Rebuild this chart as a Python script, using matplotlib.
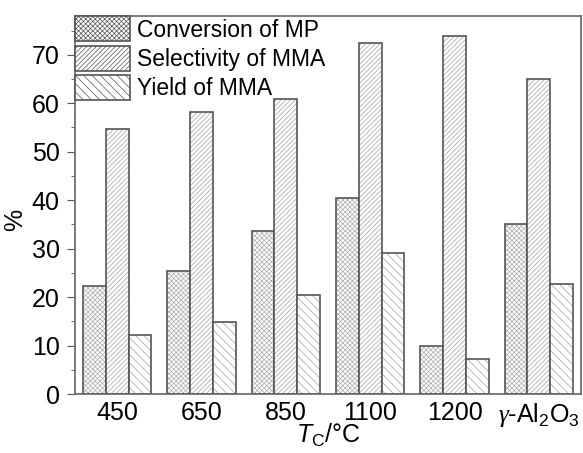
import matplotlib.pyplot as plt
import numpy as np
from matplotlib.ticker import MultipleLocator

plt.rcParams['font.family'] = ['Liberation Sans', 'DejaVu Sans']
plt.rcParams['mathtext.fontset'] = 'custom'
plt.rcParams['mathtext.rm'] = 'Liberation Sans'
plt.rcParams['mathtext.it'] = 'Liberation Sans:italic'
plt.rcParams['mathtext.sf'] = 'Liberation Serif:italic'
plt.rcParams['hatch.linewidth'] = 0.5

categories = ['450', '650', '850', '1100', '1200', r'$\mathsf{\gamma}$-Al$_2$O$_3$']
conversion = [22.3, 25.4, 33.7, 40.4, 9.9, 35.1]
selectivity = [54.7, 58.2, 60.8, 72.5, 73.8, 65.0]
yield_mma = [12.2, 14.8, 20.5, 29.2, 7.3, 22.8]

fig = plt.figure(figsize=(5.83, 4.53), dpi=100)
ax = fig.add_axes([0.1286, 0.1302, 0.868, 0.8345])

x = np.arange(len(categories))
w = 0.27
edge = '#555555'

series = [
    (conversion, 'xxxxxxx', '#ababab', 'Conversion of MP'),
    (selectivity, '///////', '#a0a0a0', 'Selectivity of MMA'),
    (yield_mma, '\\\\\\\\', '#a0a0a0', 'Yield of MMA'),
]
for i, (vals, h, hc, lab) in enumerate(series):
    ax.bar(x + (i - 1) * w, vals, w, facecolor='white', edgecolor=hc,
           hatch=h, linewidth=0, label=lab)
    # outline drawn separately so the hatch stays lighter than the edge
    ax.bar(x + (i - 1) * w, vals, w, facecolor='none', edgecolor=edge, linewidth=1.2)

ax.set_xlim(-0.5, len(categories) - 0.5)
ax.set_ylim(0, 78)
ax.set_xticks(x)
ax.set_xticklabels(categories, fontsize=18)
ax.yaxis.set_major_locator(MultipleLocator(10))
ax.yaxis.set_minor_locator(MultipleLocator(5))
ax.tick_params(axis='y', which='major', direction='out', length=6, labelsize=18,
               color='#555555', pad=5)
ax.tick_params(axis='y', which='minor', direction='out', length=3, color='#555555')
ax.tick_params(axis='x', length=0, pad=5)
for s in ax.spines.values():
    s.set_color('#666666')
    s.set_linewidth(1.2)

ax.set_ylabel('%', fontsize=18)
ax.yaxis.set_label_coords(-0.094, 0.46)
# x label placed by hand so the subscript can hang below the figure edge
fig.text(0.5 * (0.1286 + 0.9966), 0.022, r'$T_{\rm C}$/°C', fontsize=18, ha='center',
         va='baseline')

leg = ax.legend(loc='upper left', frameon=False, fontsize=16.5, borderaxespad=0.0,
                handlelength=2.4, handleheight=1.3, labelspacing=0.18,
                handletextpad=0.3, borderpad=0.02)
for p in leg.get_patches():
    p.set_edgecolor(edge)
    p.set_linewidth(1.2)

fig.savefig('out.png', dpi=100)
